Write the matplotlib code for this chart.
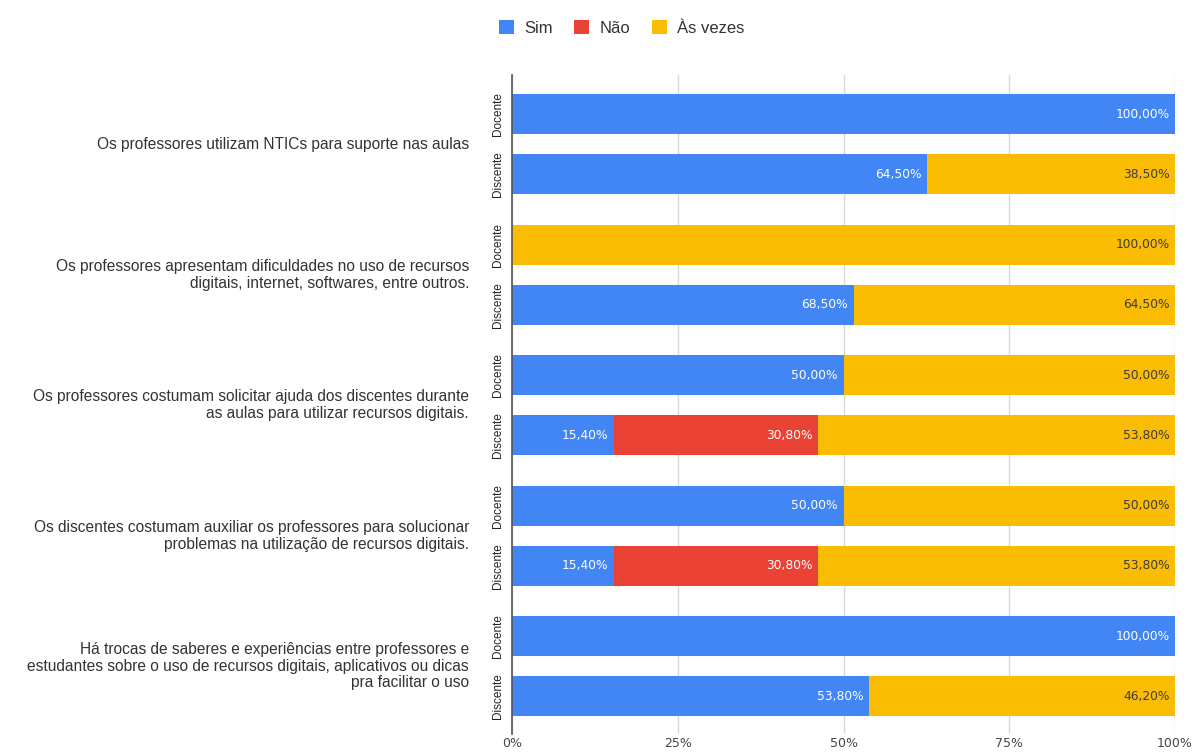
import numpy as np
import matplotlib
matplotlib.use("Agg")
from matplotlib import pyplot as plt
from matplotlib.patches import Patch

plt.rcParams['font.family'] = ['Liberation Sans', 'DejaVu Sans']

# questions (one group of two bars each)
questions = [
    "Os professores utilizam NTICs para suporte nas aulas",
    "Os professores apresentam dificuldades no uso de recursos\ndigitais, internet, softwares, entre outros.",
    "Os professores costumam solicitar ajuda dos discentes durante\nas aulas para utilizar recursos digitais.",
    "Os discentes costumam auxiliar os professores para solucionar\nproblemas na utilização de recursos digitais.",
    "Há trocas de saberes e experiências entre professores e\nestudantes sobre o uso de recursos digitais, aplicativos ou dicas\npra facilitar o uso",
]
groups = ["Docente", "Discente"]
series = ["Sim", "Não", "Às vezes"]

# values in %, rows: q1 Docente, q1 Discente, q2 Docente, ...
sim = [100.0, 64.5, 0.0, 68.5, 50.0, 15.4, 50.0, 15.4, 100.0, 53.8]
nao = [0.0, 0.0, 0.0, 0.0, 0.0, 30.8, 0.0, 30.8, 0.0, 0.0]
as_vezes = [0.0, 38.5, 100.0, 64.5, 50.0, 53.8, 50.0, 53.8, 0.0, 46.2]

colors = ['#4285F4', '#EA4335', '#FBBC04']
label_colors = ['white', 'white', '#3c3c3c']

values = np.array([sim, nao, as_vezes])
totals = values.sum(axis=0)
shares = values / totals * 100  # 100% stacked, like the sheet chart

n_rows = values.shape[1]
offsets = np.array([0.3, 0.76])
ypos = np.array([q + offsets[g] for q in range(len(questions)) for g in range(len(groups))])
bar_h = 0.306

fig = plt.figure(figsize=(11.95, 7.53), dpi=100)
ax = fig.add_axes([0.4285, 0.0252, 0.5548, 0.8752])

left = np.zeros(n_rows)
for i, name in enumerate(series):
    ax.barh(ypos, shares[i], height=bar_h, left=left, color=colors[i], zorder=3)
    for r in range(n_rows):
        if values[i, r] > 0:
            ax.annotate(f"{values[i, r]:.2f}%".replace('.', ','),
                        xy=(left[r] + shares[i, r], ypos[r]), xytext=(-4, 0),
                        textcoords='offset points', ha='right', va='center',
                        fontsize=8.8, family='DejaVu Sans',
                        color=label_colors[i], zorder=4)
    left += shares[i]

ax.set_xlim(0, 100)
ax.set_ylim(5.05, 0)
ax.set_xticks([0, 25, 50, 75, 100])
ax.set_xticklabels(['0%', '25%', '50%', '75%', '100%'], fontsize=9,
                   family='DejaVu Sans', color='#444444')
ax.tick_params(axis='x', length=0, pad=2)
ax.set_yticks([])
ax.grid(axis='x', color='#d9d9d9', linewidth=1, zorder=0)
for side in ['top', 'right', 'bottom']:
    ax.spines[side].set_visible(False)
ax.spines['left'].set_color('#555555')
ax.spines['left'].set_linewidth(1.2)
ax.spines['left'].set_zorder(5)

# Docente / Discente sub labels
for r in range(n_rows):
    ax.annotate(groups[r % 2], xy=(0, ypos[r]), xytext=(-10, 0),
                textcoords='offset points', rotation=90, ha='center', va='center',
                fontsize=8.5, color='#222222', annotation_clip=False)

# question labels
for q, text in enumerate(questions):
    yc = q + offsets.mean()
    ax.annotate(text, xy=(0, yc), xytext=(-31, 0), textcoords='offset points',
                ha='right', va='center', fontsize=11.2, color='#333333',
                linespacing=1.15, annotation_clip=False, multialignment='right')

handles = [Patch(facecolor=c, edgecolor='none') for c in colors]
fig.legend(handles, series, loc='center', bbox_to_anchor=(0.52, 0.963), ncol=3,
           frameon=False, fontsize=12, handlelength=0.9, handleheight=0.9,
           handletextpad=0.6, columnspacing=1.3, labelcolor='#333333')

fig.savefig('out.png', dpi=100, facecolor='white')
